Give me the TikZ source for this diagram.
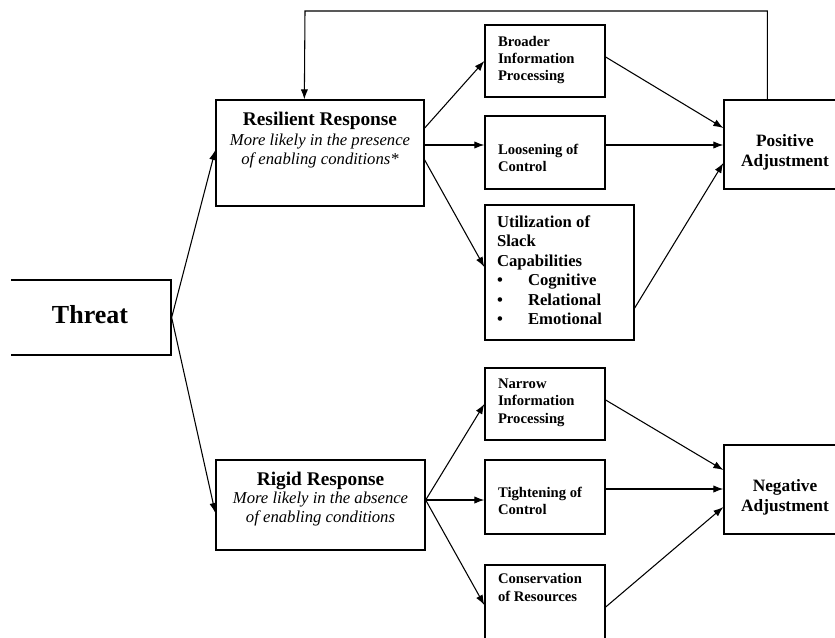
\documentclass[tikz,border=0pt]{standalone}
\usepackage{fontspec}
\setmainfont{Liberation Serif}
\usetikzlibrary{arrows.meta,calc}
\tikzset{
  box/.style={draw, rectangle, line width=1pt, inner sep=0pt},
  conn/.style={line width=0.8pt, -{Latex[length=7.5pt,width=5.5pt]}},
  txt/.style={inner sep=0pt, outer sep=0pt},
  bigtitle/.style={txt, anchor=base, font=\fontsize{19.5}{22}\selectfont\bfseries},
  resphead/.style={txt, anchor=base, font=\fontsize{14.5}{17}\selectfont\bfseries},
  respnote/.style={txt, anchor=base, font=\fontsize{12.5}{15}\selectfont\itshape},
  steptext/.style={txt, anchor=base west, font=\fontsize{11}{13}\selectfont\bfseries},
  slacktext/.style={txt, anchor=base west, font=\fontsize{12.5}{15}\selectfont\bfseries},
  outcome/.style={txt, anchor=base, font=\fontsize{13}{16}\selectfont\bfseries},
}
\begin{document}
\begin{tikzpicture}[x=0.75pt,y=-0.75pt]
\useasboundingbox (0,0) rectangle (835,637);
\begin{scope}
\clip (11,0) rectangle (835,637);

% boxes
\node[box, minimum width=121.5pt, minimum height=56.25pt] (thr) at (90,317.5) {};
\node[box, minimum width=156pt, minimum height=79.5pt] (res) at (320,153) {};
\node[box, minimum width=156.75pt, minimum height=67.5pt] (rig) at (320.5,505) {};
\node[box, minimum width=90pt, minimum height=54pt] (bro) at (545,61) {};
\node[box, minimum width=90pt, minimum height=54.75pt] (loo) at (545,152.5) {};
\node[box, minimum width=111.75pt, minimum height=101.25pt] (uti) at (559.5,272.5) {};
\node[box, minimum width=90pt, minimum height=54pt] (nar) at (545,404) {};
\node[box, minimum width=90pt, minimum height=55.5pt] (tig) at (545,497) {};
\node[box, minimum width=90pt, minimum height=67.5pt] (con) at (545,610) {};
\node[box, minimum width=91.5pt, minimum height=66.75pt] (pos) at (785,144.5) {};
\node[box, minimum width=91.5pt, minimum height=66.75pt] (neg) at (785,489.5) {};

% texts
\node[bigtitle] (thr-t) at (90,323) {Threat};

\node[resphead] (res-t1) at (320,125) {Resilient Response};
\node[respnote] (res-t2) at (320,145) {More likely in the presence};
\node[respnote] (res-t3) at (320,164) {of enabling conditions*};

\node[resphead] (rig-t1) at (320.5,485) {Rigid Response};
\node[respnote] (rig-t2) at (320.5,503.5) {More likely in the absence};
\node[respnote] (rig-t3) at (320.5,522) {of enabling conditions};

\node[steptext] (bro-t1) at (498,46) {Broader};
\node[steptext] (bro-t2) at (498,63) {Information};
\node[steptext] (bro-t3) at (498,80) {Processing};

\node[steptext] (loo-t1) at (498,154) {Loosening of};
\node[steptext] (loo-t2) at (498,171) {Control};

\node[slacktext] (uti-t1) at (497,227) {Utilization of};
\node[slacktext] (uti-t2) at (497,246.5) {Slack};
\node[slacktext] (uti-t3) at (497,266) {Capabilities};
\node[slacktext] (uti-b1) at (497,285.5) {•};
\node[slacktext] (uti-b2) at (497,305) {•};
\node[slacktext] (uti-b3) at (497,324.5) {•};
\node[slacktext] (uti-i1) at (528,285.5) {Cognitive};
\node[slacktext] (uti-i2) at (528,305) {Relational};
\node[slacktext] (uti-i3) at (528,324.5) {Emotional};

\node[steptext] (nar-t1) at (498,388) {Narrow};
\node[steptext] (nar-t2) at (498,405.5) {Information};
\node[steptext] (nar-t3) at (498,423) {Processing};

\node[steptext] (tig-t1) at (498,497) {Tightening of};
\node[steptext] (tig-t2) at (498,514) {Control};

\node[steptext] (con-t1) at (498,583) {Conservation};
\node[steptext] (con-t2) at (498,601) {of Resources};

\node[outcome] (pos-t1) at (785,146.5) {Positive};
\node[outcome] (pos-t2) at (785,166) {Adjustment};
\node[outcome] (neg-t1) at (785,491.5) {Negative};
\node[outcome] (neg-t2) at (785,511) {Adjustment};

% connectors
\draw[conn] (thr.east) -- ($(res.west)+(0,-3)$);
\draw[conn] (thr.east) -- ($(rig.west)+(0,8)$);

\draw[conn] ($(res.east)+(0,-25)$) -- (bro.west);
\draw[conn] ($(res.east)+(0,-8)$) -- ($(loo.west)+(0,-7.5)$);
\draw[conn] ($(res.east)+(0,7)$) -- ($(uti.west)+(0,-5.5)$);

\draw[conn] ($(bro.east)+(0,-4)$) -- ($(pos.west)+(0,-16.5)$);
\draw[conn] ($(loo.east)+(0,-7.5)$) -- ($(pos.west)+(0,0.5)$);
\draw[conn] ($(uti.east)+(0,35.5)$) -- ($(pos.west)+(0,18.5)$);

\coordinate (fbcorner) at (305,11);
\draw[conn] ($(pos.north west)+(44,0)$) |- (fbcorner) -- ($(res.north west)+(89,0)$);

\draw[conn] ($(rig.east)+(0,-5)$) -- (nar.west);
\draw[conn] ($(rig.east)+(0,-5)$) -- ($(tig.west)+(0,3)$);
\draw[conn] ($(rig.east)+(0,-5)$) -- ($(con.west)+(0,-5)$);

\draw[conn] ($(nar.east)+(0,-4)$) -- ($(neg.west)+(0,-19.5)$);
\draw[conn] ($(tig.east)+(0,-8)$) -- ($(neg.west)+(0,-0.5)$);
\draw[conn] ($(con.east)+(0,-3)$) -- ($(neg.west)+(0,17.5)$);
\end{scope}
\end{tikzpicture}
\end{document}
